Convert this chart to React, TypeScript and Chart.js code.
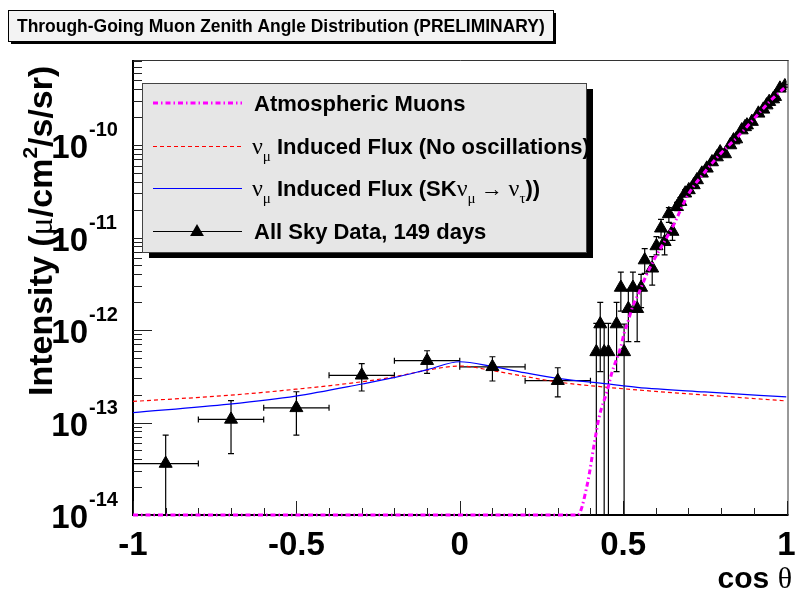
import React, { useEffect, useRef } from 'react';
import { Chart, registerables } from 'chart.js';

Chart.register(...registerables);

const W = 795;
const H = 591;

const titleText = 'Through-Going Muon Zenith Angle Distribution (PRELIMINARY)';
const xTickValues = [-1, -0.5, 0, 0.5, 1];
const xTickLabels = ['-1', '-0.5', '0', '0.5', '1'];
const yDecades = [-14, -13, -12, -11, -10];
const yMin = 1e-14;
const yMax = 8.3e-10;

// Atmospheric muons (magenta dash-dot)
const atmX = [-1, 0.361, 0.391, 0.412, 0.427, 0.452, 0.465, 0.493, 0.503, 0.513, 0.533, 0.543, 0.569, 0.594, 0.65, 0.7, 0.75, 0.8, 0.85, 0.9, 0.95, 1.0];
const atmY = [1e-14, 1e-14, 2.2e-14, 6.0e-14, 1.16e-13, 2.24e-13, 3.4e-13, 6.6e-13, 9.2e-13, 1.18e-12, 1.95e-12, 2.29e-12, 3.77e-12, 5.7e-12, 1.27e-11, 2.95e-11, 5.1e-11, 8.2e-11, 1.22e-10, 1.91e-10, 2.99e-10, 4.35e-10];

// nu_mu induced flux, no oscillations (red dashed)
const noOscX = [-1, -0.705, -0.502, -0.299, -0.198, -0.096, 0.0, 0.102, 0.198, 0.3, 0.452, 0.543, 0.75, 1.0];
const noOscY = [1.69e-13, 1.97e-13, 2.29e-13, 2.76e-13, 3.13e-13, 3.7e-13, 4.08e-13, 3.63e-13, 3.16e-13, 2.74e-13, 2.4e-13, 2.25e-13, 1.98e-13, 1.71e-13];

// nu_mu induced flux, SK numu -> nutau (blue solid)
const oscX = [-1, -0.705, -0.502, -0.299, -0.198, -0.096, 0.0, 0.102, 0.198, 0.3, 0.452, 0.543, 0.75, 1.0];
const oscY = [1.28e-13, 1.58e-13, 1.93e-13, 2.61e-13, 3.07e-13, 3.76e-13, 4.54e-13, 4.01e-13, 3.46e-13, 3.0e-13, 2.61e-13, 2.4e-13, 2.14e-13, 1.89e-13];

// All sky data, 149 days
const dataX = [-0.9, -0.7, -0.5, -0.3, -0.1, 0.1, 0.3,
  0.418, 0.430, 0.442, 0.455, 0.480, 0.493, 0.503, 0.516, 0.530, 0.543, 0.555, 0.566, 0.589, 0.602, 0.616, 0.627, 0.640, 0.651,
  0.665, 0.675, 0.690, 0.701, 0.716, 0.726, 0.741, 0.756, 0.772, 0.787, 0.797, 0.812, 0.828, 0.838, 0.846, 0.863, 0.873, 0.879, 0.894, 0.914, 0.929, 0.939, 0.947, 0.959, 0.965, 0.980, 0.995];
const dataY = [3.6e-14, 1.08e-13, 1.44e-13, 3.24e-13, 4.66e-13, 4.0e-13, 2.83e-13,
  5.8e-13, 1.16e-12, 5.8e-13, 5.8e-13, 1.16e-12, 2.88e-12, 5.8e-13, 1.7e-12, 2.88e-12, 1.7e-12, 2.88e-12, 5.7e-12, 4.65e-12, 8.1e-12, 1.26e-11, 9.0e-12, 1.8e-11, 1.16e-11,
  2.15e-11, 2.44e-11, 3.01e-11, 3.27e-11, 3.7e-11, 4.19e-11, 4.94e-11, 5.6e-11, 6.55e-11, 7.41e-11, 8.39e-11, 8.0e-11, 1.0e-10, 1.13e-10, 1.16e-10, 1.45e-10, 1.57e-10, 1.64e-10, 1.79e-10, 2.2e-10, 2.43e-10, 2.7e-10, 2.94e-10, 3.14e-10, 3.33e-10, 4.1e-10, 4.35e-10];
const dataLo = [0, 4.6e-14, 7.3e-14, 2.19e-13, 3.4e-13, 2.81e-13, 1.89e-13,
  0, 3.54e-13, 0, 0, 3.54e-13, 1.6e-12, 0, 7.5e-13, 1.6e-12, 7.5e-13, 1.75e-12, 4.1e-12, 3.06e-12, 6.5e-12, 9.9e-12, 6.5e-12, 1.46e-11, 9.3e-12,
  1.95e-11, 2.2e-11, 2.75e-11, 3.0e-11, 3.4e-11, 3.9e-11, 4.6e-11, 5.25e-11, 6.15e-11, 7.0e-11, 7.95e-11, 7.6e-11, 9.5e-11, 1.08e-10, 1.11e-10, 1.39e-10, 1.51e-10, 1.58e-10, 1.72e-10, 2.12e-10, 2.35e-10, 2.61e-10, 2.85e-10, 3.05e-10, 3.23e-10, 3.98e-10, 4.22e-10];
const dataHi = [7.3e-14, 1.72e-13, 2.15e-13, 4.33e-13, 5.97e-13, 5.14e-13, 3.91e-13,
  1.18e-12, 1.99e-12, 1.18e-12, 1.18e-12, 1.99e-12, 4.23e-12, 1.16e-12, 2.75e-12, 4.23e-12, 2.75e-12, 4.0e-12, 7.6e-12, 6.2e-12, 1.02e-11, 1.57e-11, 1.16e-11, 2.1e-11, 1.42e-11,
  2.4e-11, 2.7e-11, 3.3e-11, 3.55e-11, 4.0e-11, 4.5e-11, 5.3e-11, 5.95e-11, 6.95e-11, 7.8e-11, 8.8e-11, 8.4e-11, 1.05e-10, 1.18e-10, 1.21e-10, 1.51e-10, 1.63e-10, 1.7e-10, 1.86e-10, 2.28e-10, 2.51e-10, 2.79e-10, 3.03e-10, 3.23e-10, 3.43e-10, 4.22e-10, 4.48e-10];
const dataXErr = [0.1, 0.1, 0.1, 0.1, 0.1, 0.1, 0.1];

const SANS = '"Liberation Sans", Arial, Helvetica, sans-serif';
const SYM = '"Liberation Serif", "DejaVu Serif", serif';
const B = (px: number) => `bold ${px}px ${SANS}`;
const S = (px: number) => `${px}px ${SYM}`;

type Part = { t: string; font: string; dy?: number };

function richWidth(ctx: CanvasRenderingContext2D, parts: Part[]) {
  let w = 0;
  for (const p of parts) {
    ctx.font = p.font;
    w += ctx.measureText(p.t).width;
  }
  return w;
}

function drawRich(ctx: CanvasRenderingContext2D, parts: Part[], x: number, y: number, align: 'left' | 'right' | 'center' = 'left') {
  const w = richWidth(ctx, parts);
  let cx = align === 'right' ? x - w : align === 'center' ? x - w / 2 : x;
  ctx.textAlign = 'left';
  ctx.textBaseline = 'alphabetic';
  for (const p of parts) {
    ctx.font = p.font;
    ctx.fillText(p.t, cx, y + (p.dy || 0));
    cx += ctx.measureText(p.t).width;
  }
}

function triangle(ctx: CanvasRenderingContext2D, x: number, y: number, r: number) {
  ctx.beginPath();
  ctx.moveTo(x, y - r);
  ctx.lineTo(x + r * 0.866, y + r * 0.5);
  ctx.lineTo(x - r * 0.866, y + r * 0.5);
  ctx.closePath();
  ctx.fill();
}

const decorPlugin = {
  id: 'decor',
  beforeDatasetsDraw(chart: any) {
    const ctx: CanvasRenderingContext2D = chart.ctx;
    const ca = chart.chartArea;
    const xs = chart.scales.x;
    const ys = chart.scales.y;
    ctx.save();
    ctx.strokeStyle = '#333';
    ctx.lineWidth = 1;
    ctx.beginPath();
    ctx.moveTo(ca.left, ca.top + 0.5);
    ctx.lineTo(ca.right + 2, ca.top + 0.5);
    ctx.moveTo(ca.right + 1.5, ca.top);
    ctx.lineTo(ca.right + 1.5, ca.bottom);
    ctx.stroke();
    ctx.strokeStyle = '#000';
    ctx.lineWidth = 2;
    ctx.beginPath();
    ctx.moveTo(ca.left, ca.top);
    ctx.lineTo(ca.left, ca.bottom + 1);
    ctx.moveTo(ca.left - 1, ca.bottom);
    ctx.lineTo(ca.right + 2, ca.bottom);
    ctx.stroke();
    ctx.lineWidth = 1;
    ctx.strokeStyle = '#222';
    ctx.beginPath();
    for (let d = -14; d <= -10; d++) {
      for (let k = 1; k <= 9; k++) {
        const v = k * Math.pow(10, d);
        if (v < yMin * 0.999 || v > yMax) continue;
        const py = Math.round(ys.getPixelForValue(v)) + 0.5;
        const len = k === 1 ? 19 : 9;
        ctx.moveTo(ca.left, py);
        ctx.lineTo(ca.left + len, py);
      }
    }
    for (let i = -10; i <= 10; i++) {
      const v = i / 10;
      const px = Math.round(xs.getPixelForValue(v)) + 0.5;
      const len = i % 5 === 0 ? 14 : 7;
      ctx.moveTo(px, ca.bottom);
      ctx.lineTo(px, ca.bottom - len);
    }
    ctx.stroke();

    ctx.beginPath();
    ctx.rect(ca.left - 2, ca.top, ca.right - ca.left + 4, ca.bottom - ca.top);
    ctx.clip();
    ctx.strokeStyle = '#000';
    ctx.lineWidth = 1.2;
    ctx.beginPath();
    for (let i = 0; i < dataX.length; i++) {
      const px = xs.getPixelForValue(dataX[i]);
      const py = ys.getPixelForValue(dataY[i]);
      const pHi = ys.getPixelForValue(dataHi[i]);
      const pLo = dataLo[i] > 0 ? ys.getPixelForValue(dataLo[i]) : ca.bottom + 5;
      ctx.moveTo(px, pHi);
      ctx.lineTo(px, pLo);
      ctx.moveTo(px - 3, pHi);
      ctx.lineTo(px + 3, pHi);
      if (dataLo[i] > 0) {
        ctx.moveTo(px - 3, pLo);
        ctx.lineTo(px + 3, pLo);
      }
      if (i < dataXErr.length) {
        const x1 = xs.getPixelForValue(dataX[i] - dataXErr[i]);
        const x2 = xs.getPixelForValue(dataX[i] + dataXErr[i]);
        ctx.moveTo(x1, py);
        ctx.lineTo(x2, py);
        ctx.moveTo(x1, py - 3);
        ctx.lineTo(x1, py + 3);
        ctx.moveTo(x2, py - 3);
        ctx.lineTo(x2, py + 3);
      }
    }
    ctx.stroke();
    ctx.restore();
  },
  afterDraw(chart: any) {
    const ctx: CanvasRenderingContext2D = chart.ctx;
    const xs = chart.scales.x;
    const ys = chart.scales.y;
    ctx.save();
    ctx.fillStyle = '#000';

    for (const d of yDecades) {
      const py = ys.getPixelForValue(Math.pow(10, d));
      ctx.font = B(33);
      ctx.textAlign = 'right';
      ctx.fillText('10', 88, py + 13);
      ctx.textAlign = 'left';
      ctx.font = B(20);
      ctx.fillText(String(d), 89, py - 9);
    }
    ctx.font = B(33);
    ctx.textAlign = 'center';
    xTickValues.forEach((v, i) => {
      ctx.fillText(xTickLabels[i], xs.getPixelForValue(v), 555);
    });
    drawRich(ctx, [{ t: 'cos ', font: B(30) }, { t: 'θ', font: S(30) }], 792, 588, 'right');

    ctx.save();
    ctx.translate(52, 396);
    ctx.rotate(-Math.PI / 2);
    drawRich(ctx, [
      { t: 'Intensity (', font: B(34) },
      { t: 'μ', font: S(34) },
      { t: '/cm', font: B(34) },
      { t: '2', font: B(21), dy: -15 },
      { t: '/s/sr)', font: B(34) },
    ], 0, 0, 'left');
    ctx.restore();

    ctx.fillStyle = '#000';
    ctx.fillRect(11, 13, 545, 31);
    ctx.fillStyle = '#f3f3f3';
    ctx.fillRect(8, 10, 545, 31);
    ctx.strokeStyle = '#000';
    ctx.lineWidth = 1;
    ctx.strokeRect(8.5, 10.5, 545, 31);
    ctx.fillStyle = '#000';
    ctx.font = B(100);
    const tw = ctx.measureText(titleText).width;
    const tSize = (528 / tw) * 100;
    ctx.font = B(tSize);
    ctx.textAlign = 'left';
    ctx.fillText(titleText, 17, 32);

    const lx = 142, ly = 83, lw = 444, lh = 169;
    ctx.fillStyle = '#000';
    ctx.fillRect(lx + 7, ly + 6, lw, lh);
    ctx.fillStyle = '#e6e6e6';
    ctx.fillRect(lx, ly, lw, lh);
    ctx.strokeStyle = '#444';
    ctx.strokeRect(lx + 0.5, ly + 0.5, lw, lh);

    const rows = [103, 146, 188, 231];
    const sx1 = 153, sx2 = 242, tx = 254;
    ctx.strokeStyle = '#ff00ff';
    ctx.lineWidth = 3;
    ctx.setLineDash([5, 3, 1.5, 3]);
    ctx.beginPath(); ctx.moveTo(sx1, rows[0]); ctx.lineTo(sx2, rows[0]); ctx.stroke();
    ctx.strokeStyle = '#ff0000';
    ctx.lineWidth = 1;
    ctx.setLineDash([4, 3]);
    ctx.beginPath(); ctx.moveTo(sx1, rows[1] + 0.5); ctx.lineTo(sx2, rows[1] + 0.5); ctx.stroke();
    ctx.setLineDash([]);
    ctx.strokeStyle = '#0000ff';
    ctx.beginPath(); ctx.moveTo(sx1, rows[2] + 0.5); ctx.lineTo(sx2, rows[2] + 0.5); ctx.stroke();
    ctx.strokeStyle = '#000';
    ctx.beginPath(); ctx.moveTo(sx1, rows[3] + 0.5); ctx.lineTo(sx2, rows[3] + 0.5); ctx.stroke();
    ctx.fillStyle = '#000';
    triangle(ctx, 197, rows[3] + 1, 8);

    const base = 8;
    drawRich(ctx, [{ t: 'Atmospheric Muons', font: B(22) }], tx, rows[0] + base);
    drawRich(ctx, [
      { t: 'ν', font: S(24) },
      { t: 'μ', font: S(15), dy: 7 },
      { t: ' Induced Flux (No oscillations)', font: B(22) },
    ], tx - 2, rows[1] + base);
    drawRich(ctx, [
      { t: 'ν', font: S(24) },
      { t: 'μ', font: S(15), dy: 7 },
      { t: ' Induced Flux (SK', font: B(22) },
      { t: 'ν', font: S(24) },
      { t: 'μ', font: S(15), dy: 7 },
      { t: ' → ', font: S(22) },
      { t: 'ν', font: S(24) },
      { t: 'τ', font: S(15), dy: 7 },
      { t: '))', font: B(22) },
    ], tx - 2, rows[2] + base);
    drawRich(ctx, [{ t: 'All Sky Data, 149 days', font: B(22) }], tx, rows[3] + base);

    ctx.restore();
  },
};

export default function App() {
  const ref = useRef<HTMLCanvasElement>(null);
  useEffect(() => {
    const canvas = ref.current!;
    const toPts = (xs: number[], ys: number[]) => xs.map((x, i) => ({ x, y: ys[i] }));
    const chart = new Chart(canvas, {
      type: 'scatter',
      data: {
        datasets: [
          {
            label: 'Atmospheric Muons',
            data: toPts(atmX, atmY),
            showLine: true,
            borderColor: '#ff00ff',
            borderWidth: 3,
            borderDash: [5, 3, 1.5, 3],
            pointRadius: 0,
            cubicInterpolationMode: 'monotone',
            clip: 6,
            order: 0,
          } as any,
          {
            label: 'All Sky Data, 149 days',
            data: toPts(dataX, dataY),
            showLine: false,
            pointStyle: 'triangle',
            pointRadius: 7.5,
            borderWidth: 1,
            backgroundColor: '#000',
            borderColor: '#000',
            order: 1,
          } as any,
          {
            label: 'SK',
            data: toPts(oscX, oscY),
            showLine: true,
            borderColor: '#0000ff',
            borderWidth: 1.2,
            pointRadius: 0,
            cubicInterpolationMode: 'monotone',
            order: 2,
          } as any,
          {
            label: 'No osc',
            data: toPts(noOscX, noOscY),
            showLine: true,
            borderColor: '#ff0000',
            borderWidth: 1.2,
            borderDash: [4, 3],
            pointRadius: 0,
            cubicInterpolationMode: 'monotone',
            order: 3,
          } as any,
        ],
      },
      options: {
        responsive: false,
        devicePixelRatio: 1,
        animation: false,
        events: [],
        layout: { padding: { left: 133, right: 4, top: 60, bottom: 76 } },
        plugins: { legend: { display: false }, tooltip: { enabled: false }, title: { display: false } },
        scales: {
          x: { type: 'linear', min: -1, max: 1, display: false },
          y: { type: 'logarithmic', min: yMin, max: yMax, display: false },
        },
      },
      plugins: [decorPlugin],
    } as any);
    return () => chart.destroy();
  }, []);
  return (
    <canvas
      ref={ref}
      width={W}
      height={H}
      style={{ position: 'fixed', left: 0, top: 0, width: W, height: H, background: '#fff' }}
    />
  );
}
